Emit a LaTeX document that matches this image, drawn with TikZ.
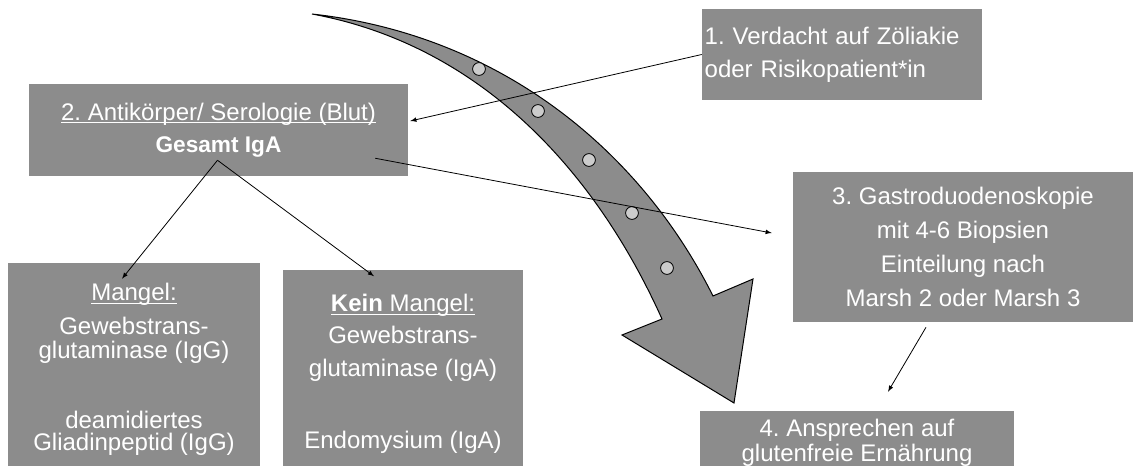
\documentclass[tikz,border=0pt]{standalone}
\usepackage{fontspec}
\setmainfont{Liberation Sans}
\usepackage{tikz}
\usetikzlibrary{arrows,positioning}
\definecolor{kastengrau}{RGB}{140,140,140}
\definecolor{punktgrau}{RGB}{204,204,204}
\newsavebox\unterbox
\newcommand{\unterstr}[1]{\sbox\unterbox{#1}\rlap{\rule[-2.2pt]{\wd\unterbox}{0.8pt}}\usebox\unterbox}
\frenchspacing

\begin{document}
\begin{tikzpicture}[x=0.75pt,y=-0.75pt,
  kasten/.style={fill=kastengrau,text=white,align=center,inner sep=0pt,font=\fontsize{18}{18}\selectfont},
  pfeil/.style={-latex,line width=0.6pt}]
  \useasboundingbox (0,0) rectangle (1133,466);
  \draw[fill=kastengrau,line width=0.75pt] (312,14) .. controls (500,35) and (640,150) .. (713,296)
    -- (753,279) -- (734,403) -- (622,335) -- (662,319) .. controls (595,170) and (480,45) .. (312,14) -- cycle;
  \foreach \p in {(479,69),(538,111),(589,160),(632,213),(667,268)}
    \draw[fill=punktgrau,line width=0.6pt] \p circle (4.8pt);
  \node[kasten,minimum width=210pt,minimum height=68.25pt,text width=206pt,align=left] (verdacht) at (842,54.5)
    {1. Verdacht auf Zöliakie\\[6.75pt]oder Risikopatient*in};
  \node[kasten,minimum width=284.25pt,minimum height=69pt] (serologie) at (218.5,130)
    {\unterstr{2. Antikörper/ Serologie (Blut)}\\[6pt]{\fontsize{17}{17}\selectfont\bfseries Gesamt IgA}};
  \node[kasten,minimum width=189pt,minimum height=159.75pt] (mangel) at (134,369.5)
    {\unterstr{Mangel:}\\[7.5pt]Gewebstrans-\\glutaminase (IgG)\\[34.5pt]deamidiertes\\[-1.5pt]Gliadinpeptid (IgG)};
  \node[kasten,minimum width=180pt,minimum height=155.25pt] (keinmangel) at (403,374)
    {\unterstr{\textbf{Kein} Mangel:}\\[6pt]Gewebstrans-\\[6.75pt]glutaminase (IgA)\\[36pt]Endomysium (IgA)};
  \node[kasten,minimum width=255pt,minimum height=112.5pt] (gastro) at (963,247)
    {3. Gastroduodenoskopie\\[7.5pt]mit 4-6 Biopsien\\[7.5pt]Einteilung nach\\[7.5pt]Marsh 2 oder Marsh 3};
  \node[kasten,minimum width=235.5pt,minimum height=47.25pt] (ansprechen) at (857,442.5)
    {4. Ansprechen auf\\[0.75pt]glutenfreie Ernährung};
  \draw[pfeil] (verdacht.west) -- ([shift={(2,-9)}]serologie.east);
  \draw[pfeil] ([shift={(-33,-18)}]serologie.south east) -- ([shift={(-21,-14)}]gastro.west);
  \draw[pfeil] ([shift={(-1,-16)}]serologie.south) -- ([shift={(-12,16)}]mangel.north);
  \draw[pfeil] ([shift={(-1,-16)}]serologie.south) -- ([shift={(-29,6)}]keinmangel.north);
  \draw[pfeil] ([shift={(-37,5)}]gastro.south) -- ([shift={(31,-19)}]ansprechen.north);
\end{tikzpicture}
\end{document}
